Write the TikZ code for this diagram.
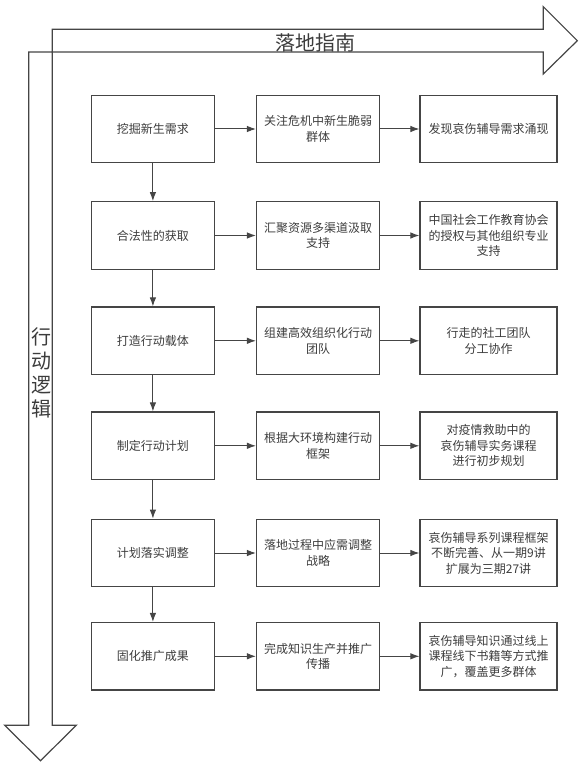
\documentclass[tikz,border=0pt]{standalone}
\usepackage{fontspec}
\setmainfont{Noto Sans CJK SC}
\usetikzlibrary{arrows.meta}
\definecolor{ln}{HTML}{454545}
\definecolor{tx}{HTML}{3C3C3C}
\begin{document}
\begin{tikzpicture}[x=1pt,y=-1pt,
  box/.style={draw=ln,line width=1.2pt,minimum height=67.5pt,align=center,
    font=\fontsize{12}{15.5}\selectfont,text=tx,inner sep=0pt},
  colA/.style={box,minimum width=122.7pt},
  colB/.style={box,minimum width=122.9pt},
  colC/.style={box,minimum width=137pt},
  conn/.style={draw=ln,line width=1pt,-{Latex[length=9pt,width=6.5pt]}},
  big/.style={draw=ln,line width=1.2pt,line join=miter},
  bigtext/.style={font=\fontsize{20}{24}\selectfont,text=tx,inner sep=0pt}]
\useasboundingbox (0,0) rectangle (584,770);
% big L-shaped arrows
\draw[big] (52.3,29.3) -- (543.3,29.3) -- (543.3,6.7) -- (577.3,40.7) -- (543.3,74) -- (543.3,52)
  -- (28.7,52) -- (28.7,725.3) -- (4.7,725.3) -- (40.5,760.7) -- (76.3,725.3) -- (52.3,725.3) -- cycle;
\node[bigtext] (title) at (315,43) {落地指南};
\node[bigtext,align=center,font=\fontsize{20}{24}\selectfont] (side) at (41,373) {行\\动\\逻\\辑};
% rows
\node[colA] (p1) at (152.9,129) {挖掘新生需求};
\node[colB] (q1) at (318,129) {关注危机中新生脆弱\\群体};
\node[colC] (r1) at (488.5,129) {发现哀伤辅导需求涌现};
\node[colA] (p2) at (152.9,235.5) {合法性的获取};
\node[colB] (q2) at (318,235.5) {汇聚资源多渠道汲取\\支持};
\node[colC] (r2) at (488.5,235.5) {中国社会工作教育协会\\的授权与其他组织专业\\支持};
\node[colA] (p3) at (152.9,340.8) {打造行动载体};
\node[colB] (q3) at (318,340.8) {组建高效组织化行动\\团队};
\node[colC] (r3) at (488.5,340.8) {行走的社工团队\\分工协作};
\node[colA] (p4) at (152.9,445.8) {制定行动计划};
\node[colB] (q4) at (318,445.8) {根据大环境构建行动\\框架};
\node[colC] (r4) at (488.5,445.8) {对疫情救助中的\\哀伤辅导实务课程\\进行初步规划};
\node[colA] (p5) at (152.9,553) {计划落实调整};
\node[colB] (q5) at (318,553) {落地过程中应需调整\\战略};
\node[colC] (r5) at (488.5,553) {哀伤辅导系列课程框架\\不断完善、从一期9讲\\扩展为三期27讲};
\node[colA] (p6) at (152.9,656.3) {固化推广成果};
\node[colB] (q6) at (318,656.3) {完成知识生产并推广\\传播};
\node[colC] (r6) at (488.5,656.3) {哀伤辅导知识通过线上\\课程线下书籍等方式推\\广，覆盖更多群体};
% connectors
\foreach \i in {1,...,6}{
  \draw[conn] (p\i) -- (q\i);
  \draw[conn] (q\i) -- (r\i);
}
\foreach \i/\j in {1/2,2/3,3/4,4/5,5/6}{
  \draw[conn] (p\i) -- (p\j);
}
\end{tikzpicture}
\end{document}
